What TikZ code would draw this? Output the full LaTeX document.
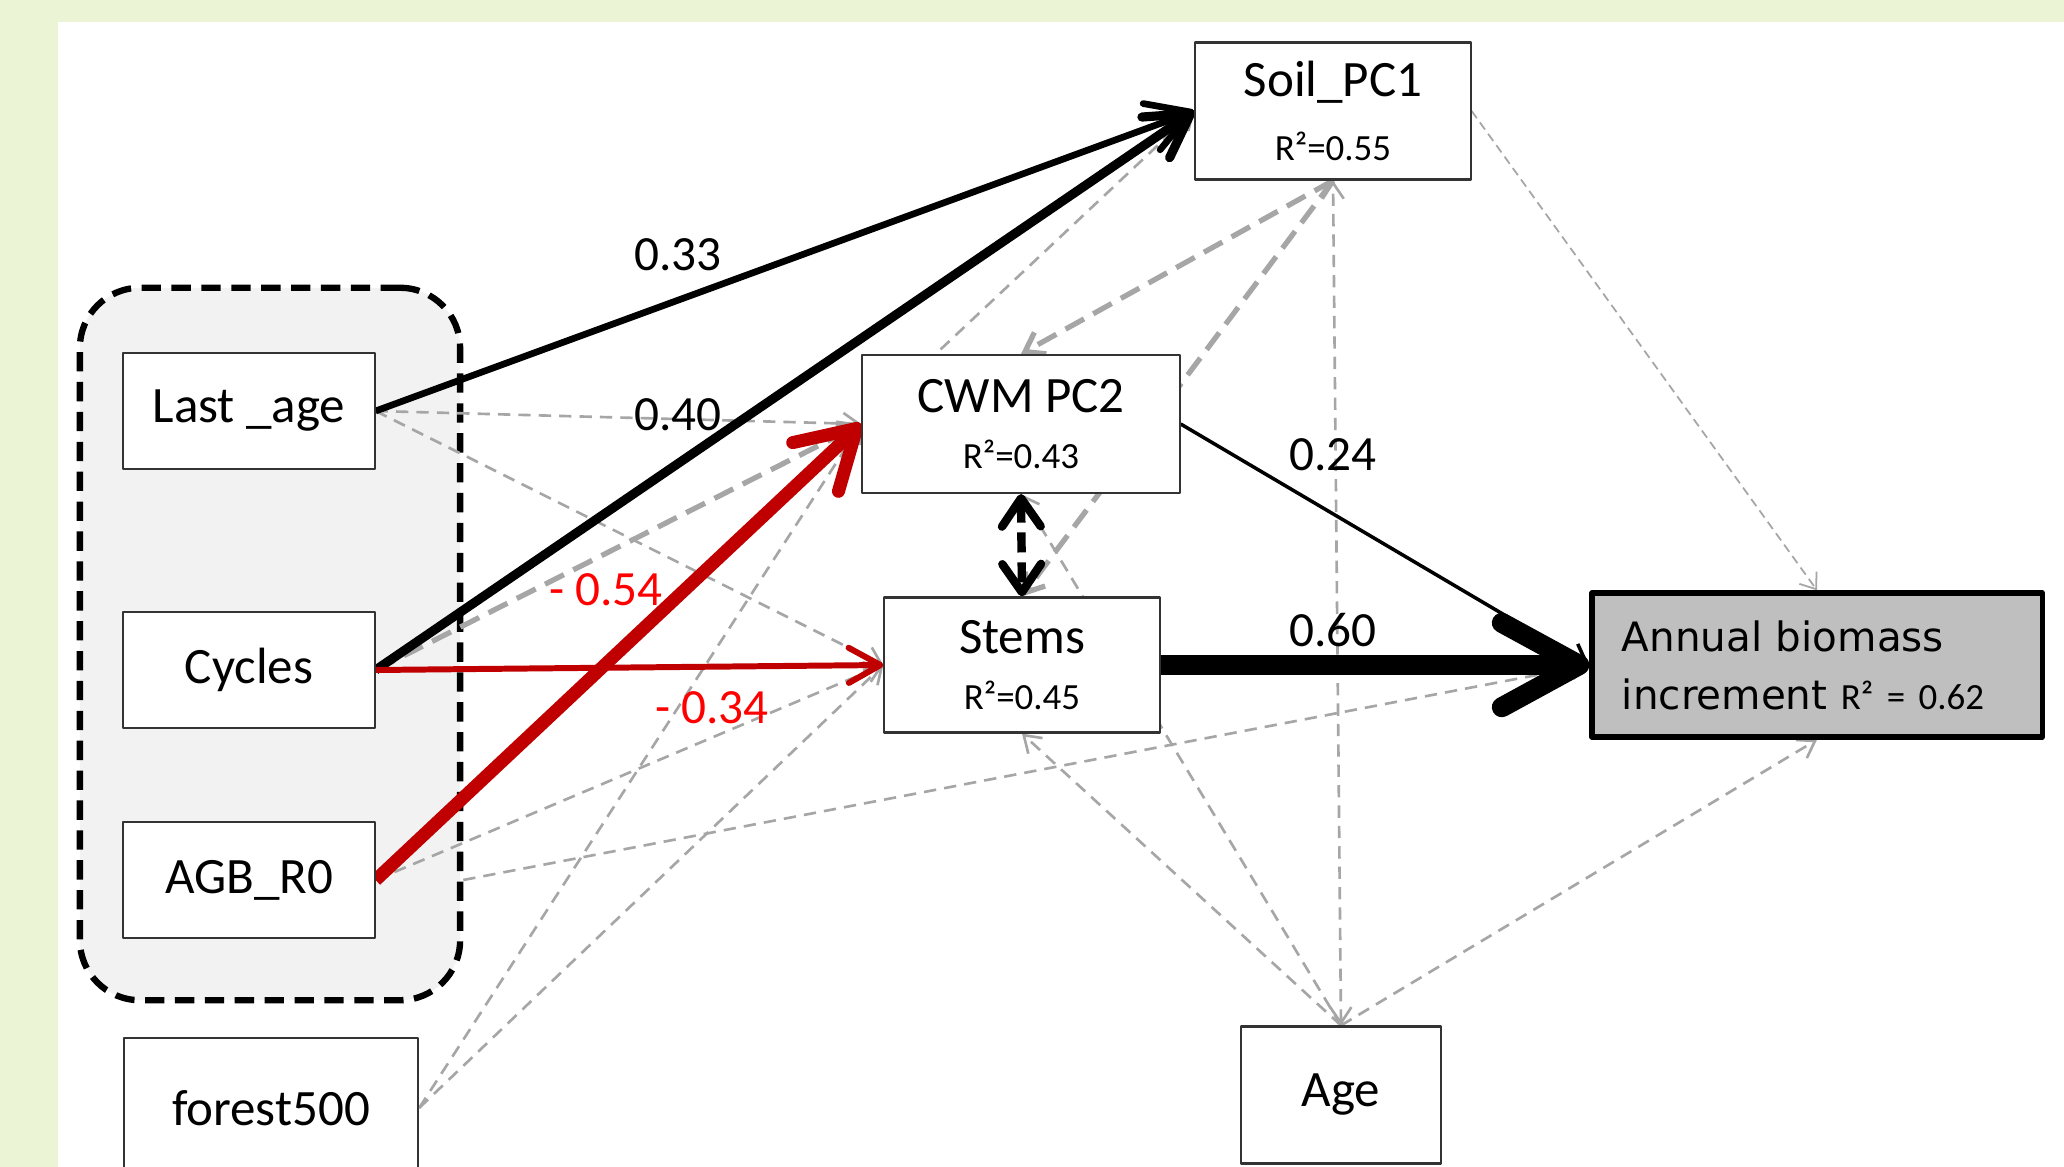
\documentclass[tikz,border=0pt]{standalone}
\usepackage{fontspec}
\setmainfont{Carlito}
\newfontfamily\dejavu{DejaVu Sans}
\usepackage{xcolor}
\usepackage{tikz}
\usetikzlibrary{arrows.meta,positioning}

\definecolor{bggreen}{RGB}{235,245,213}
\definecolor{nsgray}{RGB}{166,166,166}
\definecolor{negred}{RGB}{192,0,0}
\definecolor{labred}{RGB}{255,0,0}
\definecolor{outgray}{RGB}{191,191,191}
\definecolor{grpfill}{RGB}{242,242,242}
\newcommand{\rsq}[1]{{\fontsize{10.5}{12}\selectfont R²=#1}}

\pgfdeclarelayer{back}
\pgfdeclarelayer{links}
\pgfsetlayers{back,links,main}

\begin{document}
\begin{tikzpicture}[x=0.01cm, y=-0.01cm, line join=round,
  var/.style={draw=black!80, line width=0.6pt, fill=white, align=center, inner sep=0pt,
    font=\fontsize{14.5}{16}\selectfont},
  coef/.style={font=\fontsize{14}{16}\selectfont},
  ns/.style={draw=nsgray, line width=0.75pt, dash pattern=on 3.5pt off 2.3pt,
    -{Straight Barb[length=4.5pt,width=6pt]}},
  nsthick/.style={draw=nsgray, line width=1.5pt, dash pattern=on 6pt off 3pt,
    -{Straight Barb[length=5pt,width=7pt]}},
  nsthin/.style={draw=nsgray, line width=0.5pt, dash pattern=on 2.5pt off 1.5pt,
    -{Straight Barb[length=4pt,width=6pt]}},
  sigpath/.style={draw=black},
  negpath/.style={draw=negred}]
  \useasboundingbox (0,0) rectangle (2064,1167);

  \begin{pgfonlayer}{back}
    \fill[bggreen] (0,0) rectangle (2064,1167);
    \fill[white] (58,22) rectangle (2064,1167);
    \node[draw=black, fill=grpfill, line width=1.8pt, dash pattern=on 5.5pt off 3pt,
      rounded corners=0.6cm, minimum width=3.8cm, minimum height=7.12cm] (stand) at (270,644) {};
  \end{pgfonlayer}

  \node[var, minimum width=2.51cm, minimum height=1.16cm] (last) at (249,411) {Last \_age};
  \node[var, minimum width=2.51cm, minimum height=1.16cm] (cyc) at (249,670) {Cycles};
  \node[var, minimum width=2.51cm, minimum height=1.16cm] (agb) at (249,880) {AGB\_R0};
  \node[var, minimum width=2.94cm, minimum height=1.40cm] (forest) at (271,1108) {forest500};
  \node[var, minimum width=2.75cm, minimum height=1.37cm] (soil) at (1333,111) {Soil\_PC1\\[2pt]\rsq{0.55}};
  \node[var, minimum width=3.17cm, minimum height=1.38cm] (cwm) at (1021,424) {CWM PC2\\\rsq{0.43}};
  \node[var, minimum width=2.75cm, minimum height=1.35cm] (stems) at (1022,665) {Stems\\\rsq{0.45}};
  \node[var, minimum width=2.00cm, minimum height=1.37cm] (age) at (1341,1095) {Age};
  \node[draw=black, fill=outgray, line width=1.5pt, inner xsep=0.3cm, text width=3.9cm,
    minimum height=1.44cm, align=left, font=\dejavu\fontsize{11.5}{14}\selectfont] (ann) at (1817,665)
    {Annual biomass\\[2.5pt]increment {\rmfamily\fontsize{10.5}{12}\selectfont R² = 0.62}};

  \node[coef] (c33) at (678,255) {0.33};
  \node[coef] (c40) at (678,415) {0.40};
  \node[coef, labred] (c54) at (606,590) {- 0.54};
  \node[coef, labred] (c34) at (712,708) {- 0.34};
  \node[coef] (c24) at (1333,455) {0.24};
  \node[coef] (c60) at (1333,630) {0.60};

  \begin{pgfonlayer}{links}
    \foreach \a/\b in {last.east/cwm.west, last.east/stems.west, agb.east/stems.west,
        agb.east/soil.west, forest.east/cwm.west, forest.east/stems.west,
        age.north/cwm.south, age.north/stems.south, age.north/ann.south}
      \draw[ns] (\a) -- (\b);
    \draw[ns] (stand.east |- agb.east) -- (ann.west);
    \draw[ns, {Straight Barb[length=4.5pt,width=6pt]}-{Straight Barb[length=4.5pt,width=6pt]}] (age.north) -- (soil.south);
    \draw[nsthin] (soil.east) -- (ann.north);
    \foreach \a/\b in {cyc.east/cwm.west, soil.south/cwm.north, soil.south/stems.north}
      \draw[nsthick] (\a) -- (\b);

    \draw[sigpath, line width=1.9pt, -{Straight Barb[round,length=12pt,width=14pt]}] (last.east) -- (soil.west);
    \draw[sigpath, line width=2.6pt, -{Straight Barb[round,length=12pt,width=14pt]}] (cyc.east) -- (soil.west);
    \draw[negpath, line width=1.7pt, -{Straight Barb[round,length=9pt,width=10pt]}] (cyc.east) -- (stems.west);
    \draw[negpath, line width=3.7pt, -{Straight Barb[round,length=16pt,width=19pt]}] (agb.east) -- (cwm.west);
    \draw[sigpath, line width=1pt, -{Straight Barb[length=5pt,width=7pt]}] (cwm.east) -- (ann.west);
    \draw[sigpath, line width=5.7pt, -{Straight Barb[round,length=22pt,width=24pt]}] (stems.east) -- (ann.west);
    \draw[sigpath, line width=2.4pt, dash pattern=on 5.7pt off 2.8pt,
      {Straight Barb[round,length=8pt,width=11pt]}-{Straight Barb[round,length=8pt,width=11pt]}] (cwm.south) -- (stems.north);
  \end{pgfonlayer}
\end{tikzpicture}
\end{document}
